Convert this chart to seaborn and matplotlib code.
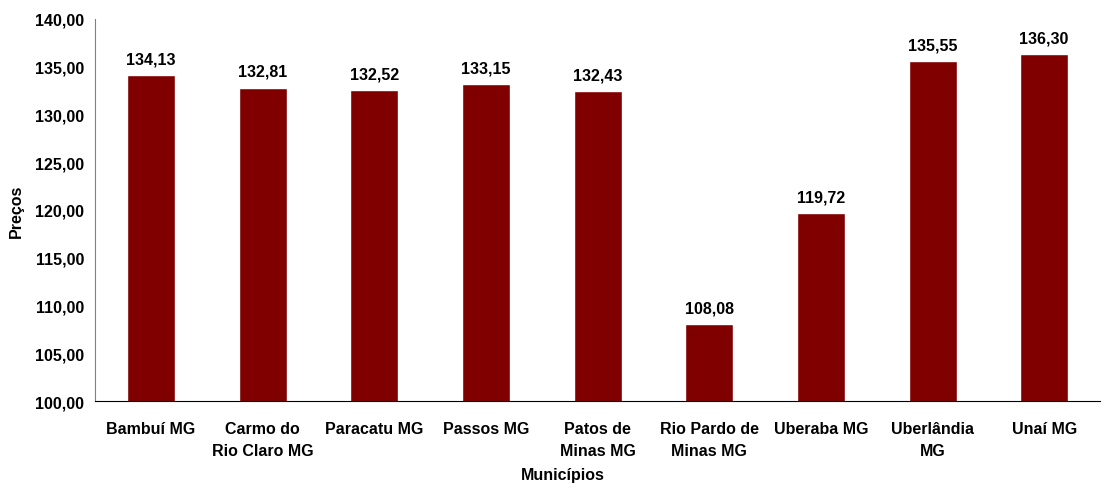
import numpy as np
import pandas as pd
import matplotlib
matplotlib.use("Agg")
import matplotlib.pyplot as plt
import seaborn as sns

municipios = ["Bambuí MG", "Carmo do\nRio Claro MG", "Paracatu MG", "Passos MG",
              "Patos de\nMinas MG", "Rio Pardo de\nMinas MG", "Uberaba MG",
              "Uberlândia\nMG", "Unaí MG"]
precos = [134.13, 132.81, 132.52, 133.15, 132.43, 108.08, 119.72, 135.55, 136.30]

sns.set_style("white")
plt.rcParams['font.family'] = ['Liberation Sans', 'DejaVu Sans']
plt.rcParams['font.weight'] = 'bold'
plt.rcParams['text.color'] = 'black'
plt.rcParams['axes.labelcolor'] = 'black'
plt.rcParams['xtick.color'] = 'black'
plt.rcParams['ytick.color'] = 'black'

FS = 11.5

df = pd.DataFrame({"Municípios": municipios, "Preços": precos})

fig, ax = plt.subplots(figsize=(11.1, 4.85), dpi=100)
fig.subplots_adjust(left=0.0856, right=0.991, top=0.959, bottom=0.171)

sns.barplot(data=df, x="Municípios", y="Preços", color="#800000",
            saturation=1, width=0.43, ax=ax)

ax.set_ylim(100, 140)
ax.set_xlim(-0.5, len(municipios) - 0.5)
yt = np.arange(100, 141, 5)
ax.set_yticks(yt)
ax.set_yticklabels([f"{v:.2f}".replace(".", ",") for v in yt], fontsize=FS, fontweight='bold')
ax.set_xticks(range(len(municipios)))
ax.set_xticklabels(municipios, fontsize=FS, fontweight='bold', linespacing=1.6)
ax.tick_params(axis='x', length=0, pad=14)
ax.set_xticks(np.arange(-0.5, len(municipios), 1), minor=True)
ax.tick_params(axis='x', which='minor', length=4, color='#808080', direction='out')
ax.tick_params(axis='y', length=4, color='#808080', labelcolor='black', direction='out', pad=4)

for i, v in enumerate(precos):
    ax.text(i, v + 0.9, f"{v:.2f}".replace(".", ","), ha='center', va='bottom',
            fontsize=FS, fontweight='bold', color='black')

ax.set_xlabel("Municípios", fontsize=FS, fontweight='bold')
ax.xaxis.set_label_coords(0.465, -0.172)
ax.set_ylabel("Preços", fontsize=FS, fontweight='bold')
ax.yaxis.set_label_coords(-0.071, 0.5)

for s in ['top', 'right']:
    ax.spines[s].set_visible(False)
ax.spines['left'].set_color('#808080')
ax.spines['bottom'].set_color('black')

plt.savefig("out.png", dpi=100)
